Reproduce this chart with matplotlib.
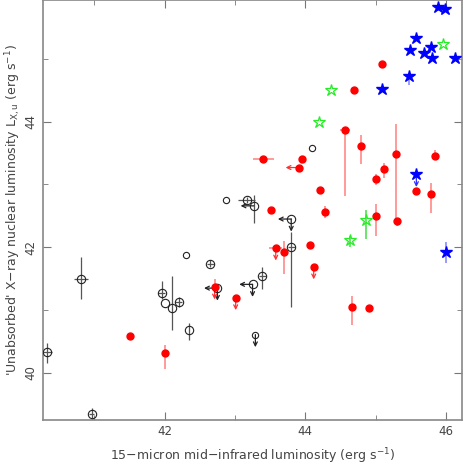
import numpy as np
import matplotlib.pyplot as plt

# red filled circles
red_x = [45.09, 44.69, 44.57, 44.79, 45.29, 45.85, 43.40, 43.96, 43.91, 45.12,
         45.00, 44.21, 45.58, 45.79, 44.28, 45.00, 45.31, 43.51, 43.58, 43.70,
         44.07, 44.12, 44.66, 44.91, 42.71, 43.01, 42.01, 41.51]
red_y = [44.92, 44.51, 43.86, 43.62, 43.48, 43.45, 43.40, 43.40, 43.27, 43.25,
         43.08, 42.91, 42.89, 42.85, 42.56, 42.50, 42.42, 42.59, 41.99, 41.92,
         42.03, 41.69, 41.05, 41.03, 41.37, 41.20, 40.31, 40.58]
red_ylo = [0, 0, 1.04, 0.30, 1.02, 0.05, 0, 0, 0, 0.15,
           0.09, 0, 0, 0.30, 0.09, 0.32, 0.08, 0, 0, 0.35,
           0, 0, 0.28, 0, 0, 0, 0.24, 0]
red_yhi = [0, 0, 0, 0.17, 0.48, 0.10, 0, 0, 0, 0.10,
           0.09, 0, 0, 0.18, 0.09, 0.19, 0, 0, 0, 0.18,
           0, 0, 0.18, 0, 0.12, 0, 0.14, 0]
red_xerr = [0, 0, 0.07, 0, 0, 0, 0.15, 0, 0, 0,
            0, 0, 0, 0, 0, 0, 0, 0, 0.09, 0,
            0, 0, 0, 0, 0, 0, 0, 0]
red_down = [18, 21, 24, 25]      # indices of upper limits in y
red_left = [8]                   # indices of upper limits in x

# blue filled stars
blue_x = [45.89, 45.99, 45.58, 45.49, 45.69, 45.79, 45.80, 46.13, 45.48, 45.09, 45.58, 46.00]
blue_y = [45.82, 45.79, 45.33, 45.14, 45.10, 45.19, 45.02, 45.01, 44.73, 44.52, 43.16, 41.92]
blue_ylo = [0.05, 0, 0, 0, 0.04, 0, 0, 0, 0.15, 0, 0, 0.17]
blue_yhi = [0, 0, 0, 0, 0, 0, 0, 0, 0, 0, 0, 0.17]
blue_down = [10]

# green open stars
green_x = [45.96, 44.36, 44.20, 44.87, 44.64]
green_y = [45.24, 44.50, 43.99, 42.43, 42.11]
green_ylo = [0, 0, 0, 0.29, 0.11]
green_yhi = [0, 0, 0, 0.16, 0.07]

# black open circles
blk_x = [43.17, 43.27, 43.80, 43.80, 42.65, 43.39, 43.25, 42.75, 41.96, 42.00,
         42.11, 42.20, 42.35, 40.81, 40.33, 40.96]
blk_y = [42.75, 42.66, 42.45, 42.00, 41.74, 41.55, 41.41, 41.35, 41.28, 41.11,
         41.03, 41.13, 40.68, 41.49, 40.34, 39.34]
blk_ylo = [0.05, 0.27, 0, 0.95, 0.06, 0.21, 0, 0, 0.11, 0,
           0.34, 0.08, 0.16, 0.32, 0.18, 0.06]
blk_yhi = [0.05, 0.18, 0, 0.24, 0.06, 0.13, 0, 0, 0.18, 0,
           0.52, 0.08, 0.11, 0.36, 0.14, 0.10]
blk_xerr = [0.12, 0, 0, 0.05, 0.05, 0.05, 0, 0, 0.05, 0,
            0, 0.05, 0, 0.10, 0.07, 0.03]
blk_down = [2, 6, 7]
blk_left = [1, 2, 6, 7]

# small black circles
sm_x = [44.10, 42.87, 42.31, 43.29]
sm_y = [43.58, 42.76, 41.87, 40.61]
sm_down = [3]

fig = plt.figure(figsize=(4.63, 4.67), dpi=100)
ax = fig.add_axes([0.0922, 0.1006, 0.9058, 0.8984])
ax.set_xlim(40.265, 46.23)
ax.set_ylim(39.25, 45.93)


def arrows(xs, ys, idx, color, dx, dy):
    for i in idx:
        ax.annotate('', xy=(xs[i] + dx, ys[i] + dy), xytext=(xs[i], ys[i]),
                    arrowprops=dict(arrowstyle='->', color=color, lw=0.9,
                                    shrinkA=0, shrinkB=0, mutation_scale=7),
                    zorder=2)


# error bars
ax.errorbar(blk_x, blk_y, yerr=[blk_ylo, blk_yhi], xerr=blk_xerr, fmt='none',
            ecolor='#555555', elinewidth=0.9, capsize=0, zorder=1)
ax.errorbar(red_x, red_y, yerr=[red_ylo, red_yhi], xerr=red_xerr, fmt='none',
            ecolor='#ff8080', elinewidth=1.1, capsize=0, zorder=1)
ax.errorbar(blue_x, blue_y, yerr=[blue_ylo, blue_yhi], fmt='none',
            ecolor='#8080ff', elinewidth=1.1, capsize=0, zorder=1)
ax.errorbar(green_x, green_y, yerr=[green_ylo, green_yhi], fmt='none',
            ecolor='#44dd44', elinewidth=1.1, capsize=0, zorder=1)

# limits
arrows(blk_x, blk_y, blk_down, '#222222', 0, -0.2)
arrows(blk_x, blk_y, blk_left, '#222222', -0.19, 0)
arrows(sm_x, sm_y, sm_down, '#222222', 0, -0.2)
arrows(red_x, red_y, red_down, '#ff3030', 0, -0.2)
arrows(red_x, red_y, red_left, '#ff3030', -0.19, 0)
arrows(blue_x, blue_y, blue_down, '#3030ff', 0, -0.2)

# markers
ax.plot(blk_x, blk_y, 'o', ms=6, mfc='none', mec='#222222', mew=0.8, zorder=3)
ax.plot(sm_x, sm_y, 'o', ms=4.5, mfc='none', mec='#222222', mew=0.8, zorder=3)
ax.plot(red_x, red_y, 'o', ms=5, mfc='#ff0000', mec='#ff0000', zorder=4)
ax.plot(blue_x, blue_y, '*', ms=9, mfc='#0000ff', mec='#0000ff', zorder=4, clip_on=False)
ax.plot(green_x, green_y, '*', ms=9, mfc='none', mec='#22ee22', mew=0.9, zorder=4)

for s in ax.spines.values():
    s.set_color('#888888')
    s.set_linewidth(1.2)

ax.set_xticks([42, 44, 46])
ax.set_xticks([41, 43, 45], minor=True)
ax.set_yticks([40, 42, 44])
ax.set_yticks([41, 43, 45], minor=True)
ax.tick_params(which='both', direction='in', top=True, right=True, color='#777777',
               labelcolor='#444444', labelsize=8.5)
ax.tick_params(which='major', length=6)
ax.tick_params(which='minor', length=3.5)
for lab in ax.get_yticklabels():
    lab.set_rotation(90)
    lab.set_va('center')

ax.set_xlabel('15\u2212micron mid\u2212infrared luminosity (erg s$^{-1}$)',
              fontsize=9, color='#444444', va='center')
ax.set_ylabel("'Unabsorbed' X\u2212ray nuclear luminosity L$_{\\rm X,u}$ (erg s$^{-1}$)",
              fontsize=9, color='#444444', va='center')
ax.xaxis.set_label_coords(0.5, -0.087)
ax.yaxis.set_label_coords(-0.071, 0.5)

fig.savefig('out.png', dpi=100)
